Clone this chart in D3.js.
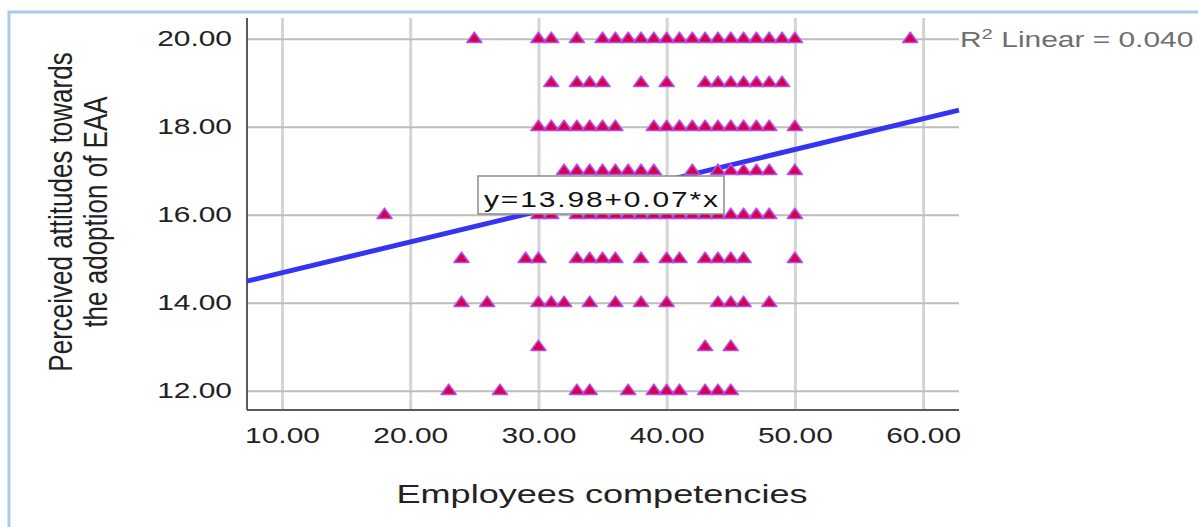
<!DOCTYPE html>
<html>
<head>
<meta charset="utf-8">
<script src="https://cdn.jsdelivr.net/npm/d3@7"></script>
<style>
  html, body { margin: 0; padding: 0; background: #ffffff; }
  svg { display: block; }
  text { font-family: "Liberation Sans", Arial, sans-serif; }
</style>
</head>
<body>
<svg id="chart" width="1198" height="527"></svg>
<script>
// Employees competencies (x) observed at each attitude score (y)
const attitudeLevels = [20, 19, 18, 17, 16, 15, 14, 13, 12];
const competencyAt20 = [25, 30, 31, 33, 35, 36, 37, 38, 39, 40, 41, 42, 43, 44, 45, 46, 47, 48, 49, 50, 59];
const competencyAt19 = [31, 33, 34, 35, 38, 40, 43, 44, 45, 46, 47, 48, 49];
const competencyAt18 = [30, 31, 32, 33, 34, 35, 36, 39, 40, 41, 42, 43, 44, 45, 46, 47, 48, 50];
const competencyAt17 = [32, 33, 34, 35, 36, 37, 38, 39, 42, 44, 45, 46, 47, 48, 50];
const competencyAt16 = [18, 30, 31, 33, 34, 35, 36, 37, 38, 39, 40, 41, 42, 43, 44, 45, 46, 47, 48, 50];
const competencyAt15 = [24, 29, 30, 33, 34, 35, 36, 38, 40, 41, 43, 44, 45, 46, 50];
const competencyAt14 = [24, 26, 30, 31, 32, 34, 36, 38, 40, 44, 45, 46, 48];
const competencyAt13 = [30, 43, 45];
const competencyAt12 = [23, 27, 33, 34, 37, 39, 40, 41, 43, 44, 45];

const xTickValues = [10, 20, 30, 40, 50, 60];
const yTickValues = [12, 14, 16, 18, 20];

// Fitted linear model
const fitIntercept = 13.98;
const fitSlope = 0.07;
const fitRSquared = 0.040;

const xTitle = "Employees competencies";
const yTitleLines = ["Perceived attitudes towards", "the adoption of EAA"];

const groups = [competencyAt20, competencyAt19, competencyAt18, competencyAt17, competencyAt16,
                competencyAt15, competencyAt14, competencyAt13, competencyAt12];
const points = [];
groups.forEach((arr, i) => arr.forEach(c => points.push({ x: c, y: attitudeLevels[i] })));

// ---- layout ----
const svg = d3.select("#chart");
const plot = { left: 247, right: 959, top: 18, bottom: 410 };
const S = 1.36;            // horizontal text stretch of the rendered output
const fmt = d3.format(".2f");

const x = d3.scaleLinear().domain([7.27, 62.8]).range([plot.left, plot.right]);
const y = d3.scaleLinear().domain([11.56, 20.47]).range([plot.bottom, plot.top]);

// outer frame
svg.append("rect")
  .attr("x", 9).attr("y", 12).attr("width", 1300).attr("height", 700)
  .attr("fill", "none").attr("stroke", "#a8cbea").attr("stroke-width", 3);

// vertical grid lines
const vGrid = svg.append("g")
  .attr("transform", `translate(0,${plot.bottom})`)
  .call(d3.axisBottom(x).tickValues(xTickValues).tickSize(-(plot.bottom - plot.top)).tickFormat(""));
vGrid.select(".domain").remove();
vGrid.selectAll("line").attr("stroke", "#d4d4d4").attr("stroke-width", 3);

// horizontal grid lines
const hGrid = svg.append("g")
  .attr("transform", `translate(${plot.left},0)`)
  .call(d3.axisLeft(y).tickValues(yTickValues).tickSize(-(plot.right - plot.left)).tickFormat(""));
hGrid.select(".domain").remove();
hGrid.selectAll("line").attr("stroke", "#bdbdbd").attr("stroke-width", 2);

// axis lines
svg.append("line")
  .attr("x1", plot.left).attr("x2", plot.left).attr("y1", plot.top).attr("y2", plot.bottom)
  .attr("stroke", "#5a5a5a").attr("stroke-width", 2);
svg.append("line")
  .attr("x1", plot.left).attr("x2", plot.right).attr("y1", plot.bottom).attr("y2", plot.bottom)
  .attr("stroke", "#5a5a5a").attr("stroke-width", 2);

// y tick labels
const yAxis = svg.append("g")
  .attr("transform", `translate(${plot.left},0)`)
  .call(d3.axisLeft(y).tickValues(yTickValues).tickSize(0).tickFormat(fmt));
yAxis.select(".domain").remove();
yAxis.selectAll("text")
  .attr("x", null)
  .attr("transform", `translate(-15,0) scale(${S},1)`)
  .attr("font-size", 22).attr("fill", "#222");

// x tick labels
const xAxis = svg.append("g")
  .attr("transform", `translate(0,${plot.bottom})`)
  .call(d3.axisBottom(x).tickValues(xTickValues).tickSize(0).tickFormat(fmt));
xAxis.select(".domain").remove();
xAxis.selectAll("text")
  .attr("y", 17)
  .attr("transform", `scale(${S},1)`)
  .attr("font-size", 22).attr("fill", "#222");

// axis titles
svg.append("text")
  .attr("transform", `translate(602,503) scale(${S},1)`)
  .attr("text-anchor", "middle").attr("font-size", 26).attr("fill", "#222")
  .attr("textLength", 411 / S).attr("lengthAdjust", "spacingAndGlyphs")
  .text(xTitle);

const yTitle = svg.append("g").attr("transform", "translate(0,212)");
yTitleLines.forEach((line, i) => {
  yTitle.append("text")
    .attr("transform", `translate(${72 + i * 35},0) scale(1.25,1) rotate(-90)`)
    .attr("text-anchor", "middle").attr("font-size", 26).attr("fill", "#222")
    .text(line);
});

// fit line
const [x0, x1] = x.domain();
svg.append("line")
  .attr("x1", x(x0)).attr("y1", y(fitIntercept + fitSlope * x0))
  .attr("x2", x(x1)).attr("y2", y(fitIntercept + fitSlope * x1))
  .attr("stroke", "#3434f2").attr("stroke-width", 5);

// points (triangle markers)
const tri = "M0,-6.5L7.5,3.8L-7.5,3.8Z";
svg.append("g").selectAll("path")
  .data(points).join("path")
  .attr("d", tri)
  .attr("transform", d => `translate(${x(d.x)},${y(d.y)})`)
  .attr("fill", "#d6004a")
  .attr("stroke", "#b44ced").attr("stroke-width", 1.6)
  .attr("stroke-linejoin", "round");

// equation label
svg.append("rect")
  .attr("x", 478).attr("y", 176).attr("width", 246).attr("height", 38)
  .attr("fill", "#ffffff").attr("stroke", "#8a8a8a").attr("stroke-width", 1.5);
svg.append("text")
  .attr("transform", `translate(484,207) scale(${S},1)`)
  .attr("font-size", 22).attr("fill", "#111")
  .attr("textLength", 234 / S).attr("lengthAdjust", "spacing")
  .text(`y=${fitIntercept.toFixed(2)}+${fitSlope.toFixed(2)}*x`);

// R-squared label
const r2 = svg.append("text")
  .attr("transform", `translate(960,47) scale(${S},1)`)
  .attr("font-size", 22).attr("fill", "#6e6e6e");
r2.append("tspan").text("R");
r2.append("tspan").attr("font-size", 15).attr("dy", -8).text("2");
r2.append("tspan").attr("dy", 8).text(" Linear = " + fitRSquared.toFixed(3));
</script>
</body>
</html>
